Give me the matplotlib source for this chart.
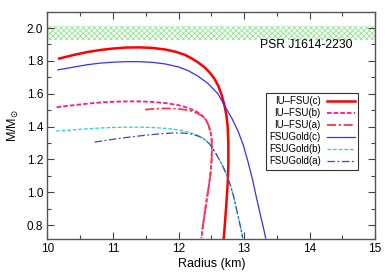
import matplotlib
matplotlib.use('Agg')
import matplotlib.pyplot as plt
from matplotlib.ticker import MultipleLocator

plt.rcParams['font.family'] = ['Liberation Sans', 'DejaVu Sans']
plt.rcParams['hatch.linewidth'] = 0.6

# mass-radius curves (radius in km, mass in solar masses)
iu_c_r = [10.18, 10.4, 10.6, 10.8, 11.0, 11.2, 11.4, 11.6, 11.8, 11.95, 12.1,
          12.2, 12.3, 12.4, 12.48, 12.55, 12.61, 12.66, 12.70, 12.73, 12.75,
          12.76, 12.76, 12.75, 12.73, 12.71, 12.69]
iu_c_m = [1.814, 1.836, 1.853, 1.866, 1.875, 1.881, 1.882, 1.879, 1.869, 1.856,
          1.836, 1.815, 1.790, 1.760, 1.727, 1.690, 1.645, 1.590, 1.530, 1.470,
          1.40, 1.30, 1.17, 1.05, 0.93, 0.82, 0.72]

iu_b_r = [10.14, 10.4, 10.6, 10.8, 11.0, 11.2, 11.4, 11.6, 11.8, 12.0, 12.15,
          12.27, 12.36, 12.42, 12.46, 12.49, 12.505, 12.51, 12.505, 12.49,
          12.46, 12.43, 12.40, 12.37, 12.35]
iu_b_m = [1.518, 1.530, 1.539, 1.546, 1.551, 1.553, 1.553, 1.550, 1.543, 1.530,
          1.513, 1.492, 1.468, 1.440, 1.405, 1.365, 1.320, 1.270, 1.200, 1.120,
          1.030, 0.955, 0.870, 0.790, 0.72]

iu_a_r = [11.49, 11.6, 11.7, 11.8, 11.9, 12.0, 12.1, 12.2, 12.28, 12.36, 12.42,
          12.46, 12.49, 12.505, 12.51, 12.505, 12.49, 12.46, 12.43, 12.40,
          12.37, 12.35]
iu_a_m = [1.503, 1.507, 1.509, 1.510, 1.510, 1.507, 1.502, 1.494, 1.482, 1.464,
          1.440, 1.405, 1.365, 1.320, 1.270, 1.200, 1.120, 1.030, 0.955, 0.870,
          0.790, 0.72]

fg_c_r = [10.16, 10.4, 10.6, 10.8, 11.0, 11.2, 11.4, 11.6, 11.8, 12.0, 12.15,
          12.3, 12.45, 12.6, 12.72, 12.82, 12.91, 12.99, 13.06, 13.13, 13.19,
          13.25, 13.30, 13.33]
fg_c_m = [1.745, 1.762, 1.776, 1.786, 1.792, 1.795, 1.795, 1.791, 1.781, 1.763,
          1.740, 1.706, 1.662, 1.600, 1.515, 1.445, 1.370, 1.285, 1.185, 1.075,
          0.965, 0.860, 0.775, 0.72]

fg_b_r = [10.13, 10.4, 10.6, 10.8, 11.0, 11.2, 11.4, 11.6, 11.8, 12.0, 12.15,
          12.28, 12.38, 12.47, 12.55, 12.62, 12.68, 12.74, 12.79, 12.84, 12.88,
          12.92, 12.95, 12.98]
fg_b_m = [1.372, 1.380, 1.386, 1.391, 1.394, 1.396, 1.396, 1.394, 1.389, 1.379,
          1.366, 1.349, 1.328, 1.296, 1.250, 1.200, 1.155, 1.100, 1.045, 0.975,
          0.905, 0.835, 0.78, 0.72]

fg_a_r = [10.72, 10.9, 11.1, 11.3, 11.5, 11.7, 11.92, 12.08, 12.2, 12.3, 12.38,
          12.47, 12.55, 12.62, 12.68, 12.74, 12.79, 12.84, 12.88, 12.92, 12.95,
          12.98]
fg_a_m = [1.305, 1.316, 1.328, 1.338, 1.347, 1.355, 1.361, 1.360, 1.354, 1.342,
          1.326, 1.296, 1.250, 1.200, 1.155, 1.100, 1.045, 0.975, 0.905, 0.835,
          0.78, 0.72]

# PSR J1614-2230 mass band
psr_lo, psr_hi = 1.93, 2.01

fig = plt.figure(figsize=(3.92, 2.75), dpi=100)
ax = fig.add_axes([0.121, 0.131, 0.836, 0.825])

ax.fill_between([10, 15], psr_lo, psr_hi, facecolor='none',
                edgecolor='#8ee88e', hatch='xxxxxx', linewidth=0, zorder=0)

ax.plot(iu_c_r, iu_c_m, color='#ff0000', lw=1.8, ls='-', label='IU\u2013FSU(c)')
ax.plot(iu_b_r, iu_b_m, color='#ff1493', lw=1.3, ls=(0, (2.5, 1.2)),
        label='IU\u2013FSU(b)')
ax.plot(iu_a_r, iu_a_m, color='#ff3a3a', lw=1.3, ls=(0, (5, 1.5, 1.2, 1.5)),
        label='IU\u2013FSU(a)')
ax.plot(fg_c_r, fg_c_m, color='#3030ff', lw=0.9, ls='-', label='FSUGold(c)')
ax.plot(fg_b_r, fg_b_m, color='#22d3d3', lw=0.9, ls=(0, (3, 1.5)),
        label='FSUGold(b)')
ax.plot(fg_a_r, fg_a_m, color='#4545b5', lw=0.9, ls=(0, (6, 2, 1.5, 2)),
        label='FSUGold(a)')

ax.text(14.66, 1.897, 'PSR J1614-2230', fontsize=8.7, ha='right', va='center')

ax.set_xlim(10, 15)
ax.set_ylim(0.715, 2.097)
ax.xaxis.set_major_locator(MultipleLocator(1))
ax.xaxis.set_minor_locator(MultipleLocator(0.5))
ax.yaxis.set_major_locator(MultipleLocator(0.2))
ax.yaxis.set_minor_locator(MultipleLocator(0.1))
ax.yaxis.set_major_formatter(plt.FormatStrFormatter('%.1f'))
ax.tick_params(which='both', direction='in', top=True, right=True,
               labelsize=8.5, color='#444444', pad=3)
ax.tick_params(which='major', length=5, width=0.8)
ax.tick_params(which='minor', length=3, width=0.8)
for s in ax.spines.values():
    s.set_color('#555555')
    s.set_linewidth(1.0)

ax.set_xlabel('Radius (km)', fontsize=9, labelpad=2)
ax.set_ylabel(r'M/M$_{\odot}$', fontsize=9, labelpad=4)

leg = ax.legend(loc='upper right', bbox_to_anchor=(0.948, 0.643),
                markerfirst=False, fontsize=7, handlelength=2.9,
                labelspacing=0.2, handletextpad=0.6, borderpad=0.35,
                borderaxespad=0, fancybox=False, framealpha=1)
leg.get_frame().set_edgecolor('#333333')
leg.get_frame().set_linewidth(0.8)

fig.savefig('out.png', dpi=100)
